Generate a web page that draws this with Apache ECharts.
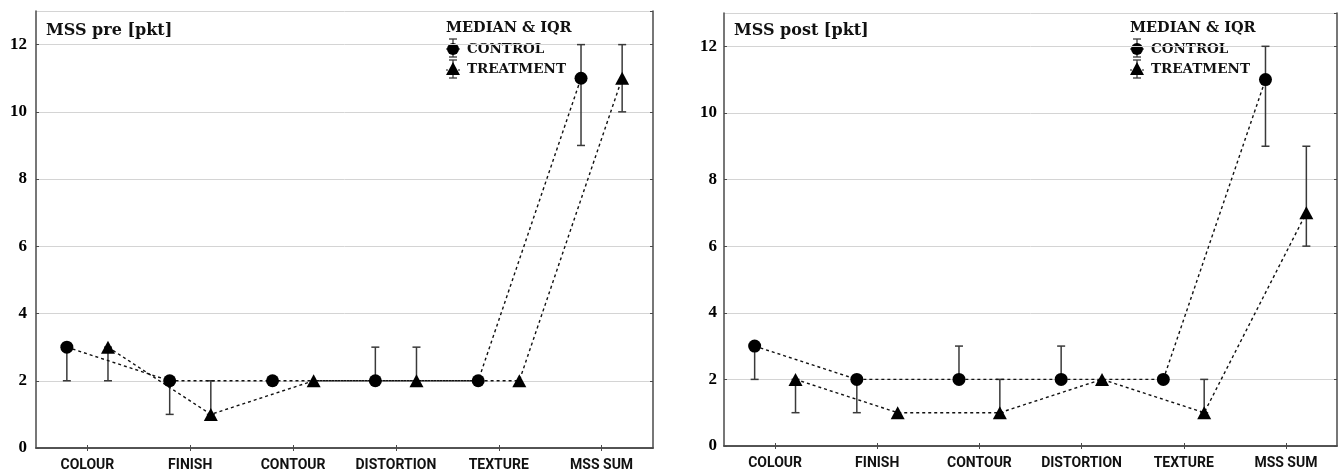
<!DOCTYPE html>
<html>
<head>
<meta charset="utf-8">
<title>MSS pre / post</title>
<script src="https://cdn.jsdelivr.net/npm/echarts@6/dist/echarts.min.js"></script>
<style>
  html, body { margin: 0; padding: 0; background: #fff; }
  #chart { width: 1341px; height: 473px; }
</style>
</head>
<body>
<div id="chart"></div>
<script>
// Categories and y-axis scale
const categories = ['COLOUR', 'FINISH', 'CONTOUR', 'DISTORTION', 'TEXTURE', 'MSS SUM'];
const yMin = 0;
const yMax = 13;
const yStep = 2;

// MSS pre: medians and interquartile ranges
const preControlMedian   = [3, 2, 2, 2, 2, 11];
const preControlQ1       = [2, 1, 2, 2, 2, 9];
const preControlQ3       = [3, 2, 2, 3, 2, 12];
const preTreatmentMedian = [3, 1, 2, 2, 2, 11];
const preTreatmentQ1     = [2, 1, 2, 2, 2, 10];
const preTreatmentQ3     = [3, 2, 2, 3, 2, 12];

// MSS post: medians and interquartile ranges
const postControlMedian   = [3, 2, 2, 2, 2, 11];
const postControlQ1       = [2, 1, 2, 2, 2, 9];
const postControlQ3       = [3, 2, 3, 3, 2, 12];
const postTreatmentMedian = [2, 1, 1, 2, 1, 7];
const postTreatmentQ1     = [1, 1, 1, 2, 1, 6];
const postTreatmentQ3     = [2, 1, 2, 2, 2, 9];

const panelTitles = ['MSS pre [pkt]', 'MSS post [pkt]'];
const legendTitle = 'MEDIAN & IQR';
const groupNames = ['CONTROL', 'TREATMENT'];

// horizontal shift of each group inside its category band
const SHIFT = 0.2;

const SERIF = '"Liberation Serif", "Times New Roman", serif';
const WIDE_SERIF = '"DejaVu Serif", "Liberation Serif", serif';
const SANS = 'Roboto, "Liberation Sans", Arial, sans-serif';
const INK = '#111';
const BAR_INK = '#3a3a3a';
const BORDER = '#4a4a4a';

const grids = [
  { left: 36, right: 688, top: 11, bottom: 25 },
  { left: 724, right: 4, top: 13, bottom: 27 }
];

function points(median, shift) {
  return median.map((v, i) => [i + 0.5 + shift, v]);
}
function ranges(q1, q3, shift) {
  return q1.map((lo, i) => [i + 0.5 + shift, lo, q3[i]]);
}

function errorBarSeries(name, gridIdx, data) {
  return {
    name: name,
    type: 'custom',
    xAxisIndex: 4 + gridIdx,
    yAxisIndex: gridIdx,
    z: 2,
    silent: true,
    data: data,
    encode: { x: 0, y: [1, 2] },
    renderItem: function (params, api) {
      const x = api.value(0), lo = api.value(1), hi = api.value(2);
      if (lo === hi) return null;
      const pLo = api.coord([x, lo]);
      const pHi = api.coord([x, hi]);
      const cap = 4;
      const st = { stroke: BAR_INK, lineWidth: 1.5 };
      return {
        type: 'group',
        children: [
          { type: 'line', shape: { x1: pLo[0], y1: pLo[1], x2: pHi[0], y2: pHi[1] }, style: st },
          { type: 'line', shape: { x1: pLo[0] - cap, y1: pLo[1], x2: pLo[0] + cap, y2: pLo[1] }, style: st },
          { type: 'line', shape: { x1: pHi[0] - cap, y1: pHi[1], x2: pHi[0] + cap, y2: pHi[1] }, style: st }
        ]
      };
    }
  };
}

function lineSeries(name, gridIdx, data, symbol, size) {
  return {
    name: name,
    type: 'line',
    xAxisIndex: 4 + gridIdx,
    yAxisIndex: gridIdx,
    z: 3,
    data: data,
    symbol: symbol,
    symbolSize: size,
    showAllSymbol: true,
    silent: true,
    itemStyle: { color: '#000' },
    lineStyle: { color: '#111', width: 1.4, type: [3, 3] }
  };
}

const xAxes = [];
const yAxes = [];
grids.forEach((g, gi) => {
  // bottom category axis with labels
  xAxes[gi] = {
    type: 'category', gridIndex: gi, data: categories, position: 'bottom',
    boundaryGap: true,
    axisLine: { show: true, lineStyle: { color: BORDER, width: 1.5 } },
    axisTick: { show: true, inside: true, length: 3, alignWithLabel: true, lineStyle: { color: BORDER } },
    axisLabel: { color: INK, fontFamily: SANS, fontWeight: 'bold', fontSize: 14, margin: 10, interval: 0 },
    splitLine: { show: false }
  };
  // top category axis: ticks only
  xAxes[2 + gi] = {
    type: 'category', gridIndex: gi, data: categories, position: 'top',
    boundaryGap: true,
    axisLine: { show: true, lineStyle: { color: BORDER, width: 1.5 } },
    axisTick: { show: true, inside: true, length: 3, alignWithLabel: true, lineStyle: { color: BORDER } },
    axisLabel: { show: false },
    splitLine: { show: false }
  };
  // hidden value axis that places the shifted markers
  xAxes[4 + gi] = {
    type: 'value', gridIndex: gi, min: 0, max: categories.length, show: false
  };
  // left value axis with labels and grid lines
  yAxes[gi] = {
    type: 'value', gridIndex: gi, min: yMin, max: yMax, interval: yStep, position: 'left',
    axisLine: { show: true, lineStyle: { color: BORDER, width: 1.5 } },
    axisTick: { show: true, inside: true, length: 3, lineStyle: { color: BORDER } },
    axisLabel: { color: '#000', fontFamily: SERIF, fontWeight: 'bold', fontSize: 17, margin: gi === 0 ? 9 : 7, showMaxLabel: false },
    splitLine: { show: true, lineStyle: { color: '#d4d4d4', width: 1 } }
  };
  // right value axis: ticks only
  yAxes[2 + gi] = {
    type: 'value', gridIndex: gi, min: yMin, max: yMax, interval: yStep, position: 'right',
    axisLine: { show: true, lineStyle: { color: BORDER, width: 1.5 } },
    axisTick: { show: true, inside: true, length: 3, lineStyle: { color: BORDER } },
    axisLabel: { show: false },
    splitLine: { show: false }
  };
});

const series = [
  errorBarSeries('pre control IQR', 0, ranges(preControlQ1, preControlQ3, -SHIFT)),
  errorBarSeries('pre treatment IQR', 0, ranges(preTreatmentQ1, preTreatmentQ3, SHIFT)),
  lineSeries('pre control', 0, points(preControlMedian, -SHIFT), 'circle', 13),
  lineSeries('pre treatment', 0, points(preTreatmentMedian, SHIFT), 'triangle', [14, 13]),
  errorBarSeries('post control IQR', 1, ranges(postControlQ1, postControlQ3, -SHIFT)),
  errorBarSeries('post treatment IQR', 1, ranges(postTreatmentQ1, postTreatmentQ3, SHIFT)),
  lineSeries('post control', 1, points(postControlMedian, -SHIFT), 'circle', 13),
  lineSeries('post treatment', 1, points(postTreatmentMedian, SHIFT), 'triangle', [14, 13])
];

// panel titles and legend boxes
function panelDecor(gi) {
  const g = grids[gi];
  const plotLeft = g.left;
  const plotRight = 1341 - g.right;
  const lx = plotRight - 207;       // legend left edge
  const sx = lx + 7;                // legend symbol centre
  const tx = lx + 21;               // legend label left edge
  const st = { stroke: BAR_INK, lineWidth: 1.3 };
  const textStyle = (text, x, y, size) => ({
    type: 'text', silent: true,
    style: { text: text, x: x, y: y, font: 'bold ' + size + 'px ' + WIDE_SERIF, fill: INK,
             textVerticalAlign: 'middle', verticalAlign: 'middle', textAlign: 'left', align: 'left' }
  });
  return [
    textStyle(panelTitles[gi], plotLeft + 10, 31, 16),
    textStyle(legendTitle, lx, 28, 14.5),
    textStyle(groupNames[0], tx, 49, 13.5),
    textStyle(groupNames[1], tx, 69, 13.5),
    // control symbol: whiskers + circle
    { type: 'line', silent: true, shape: { x1: sx, y1: 39, x2: sx, y2: 57 }, style: st },
    { type: 'line', silent: true, shape: { x1: sx - 4, y1: 39, x2: sx + 4, y2: 39 }, style: st },
    { type: 'line', silent: true, shape: { x1: sx - 4, y1: 57, x2: sx + 4, y2: 57 }, style: st },
    { type: 'line', silent: true, shape: { x1: sx - 7, y1: 49, x2: sx + 7, y2: 49 }, style: { stroke: INK, lineWidth: 1, lineDash: [2, 2] } },
    { type: 'circle', silent: true, shape: { cx: sx, cy: 49, r: 6 }, style: { fill: '#000' } },
    // treatment symbol: whiskers + triangle
    { type: 'line', silent: true, shape: { x1: sx, y1: 60, x2: sx, y2: 78 }, style: st },
    { type: 'line', silent: true, shape: { x1: sx - 4, y1: 60, x2: sx + 4, y2: 60 }, style: st },
    { type: 'line', silent: true, shape: { x1: sx - 4, y1: 78, x2: sx + 4, y2: 78 }, style: st },
    { type: 'line', silent: true, shape: { x1: sx - 7, y1: 70, x2: sx + 7, y2: 70 }, style: { stroke: INK, lineWidth: 1, lineDash: [2, 2] } },
    { type: 'polygon', silent: true, shape: { points: [[sx, 62], [sx + 7, 75], [sx - 7, 75]] }, style: { fill: '#000' } }
  ];
}

const chart = echarts.init(document.getElementById('chart'), null, { renderer: 'canvas' });
chart.setOption({
  backgroundColor: '#fff',
  animation: false,
  grid: grids.map(g => Object.assign({ show: false, containLabel: false }, g)),
  xAxis: xAxes,
  yAxis: yAxes,
  series: series,
  graphic: { elements: panelDecor(0).concat(panelDecor(1)) }
});
</script>
</body>
</html>
